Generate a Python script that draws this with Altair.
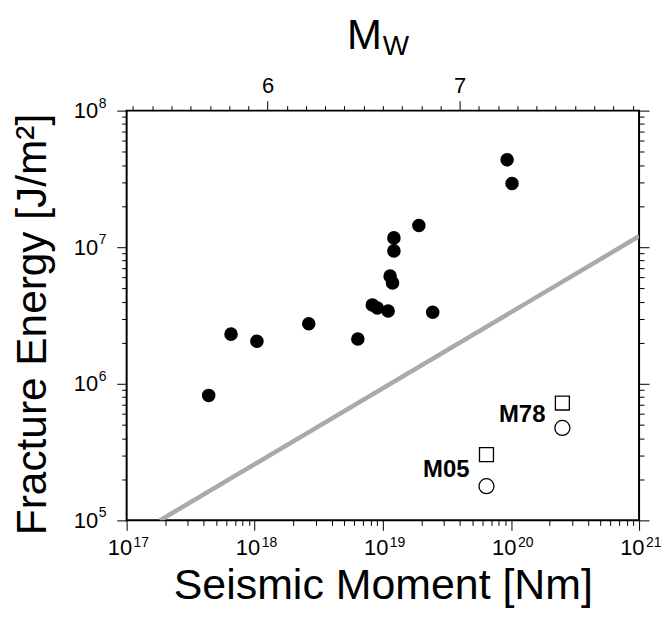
import altair as alt
import pandas as pd

# ---- data ----
moment = [4.37e17, 6.53e17, 1.04e18, 2.64e18, 6.38e18, 8.28e18, 9.06e18, 1.10e19,
          2.45e19, 1.14e19, 1.19e19, 1.22e19, 1.22e19, 1.91e19, 9.33e19, 1.02e20]
energy = [8.22e5, 2.31e6, 2.05e6, 2.75e6, 2.13e6, 3.78e6, 3.59e6, 3.41e6,
          3.34e6, 6.14e6, 5.48e6, 9.40e6, 1.17e7, 1.44e7, 4.37e7, 2.93e7]

open_labels = ["M05", "M78"]
open_moment = [6.44e19, 2.52e20]
open_square = [3.03e5, 7.23e5]
open_circle = [1.78e5, 4.75e5]

line_moment = [10 ** 17.26, 1e21]
line_energy = [1e5, 10 ** 7.08]

x_ticks = [k * 10 ** e for e in range(17, 21) for k in range(1, 10)] + [1e21]
y_ticks = [k * 10 ** e for e in range(5, 8) for k in range(1, 10)] + [1e8]
x_pow_exp = [17, 18, 19, 20, 21]
y_pow_exp = [5, 6, 7, 8]
mw_ticks = [round(5.3 + 0.1 * i, 1) for i in range(27)]
mw_major = [6, 7]

FONT = "Liberation Sans"
W, H = 514, 411

pts = pd.DataFrame({"m": moment, "e": energy})
opn = pd.DataFrame({"m": open_moment, "sq": open_square, "ci": open_circle, "lab": open_labels})
opn["mid"] = (opn["sq"] * opn["ci"]) ** 0.5
ln = pd.DataFrame({"m": line_moment, "e": line_energy})
xexp = pd.DataFrame({"m": [10.0 ** e for e in x_pow_exp], "t": [str(e) for e in x_pow_exp]})
yexp = pd.DataFrame({"e": [10.0 ** e for e in y_pow_exp], "t": [str(e) for e in y_pow_exp]})

xs = alt.Scale(type="log", domain=[1e17, 1e21], nice=False)
ys = alt.Scale(type="log", domain=[1e5, 1e8], nice=False)

lg = "round(log(datum.value)/LN10)"
is_pow = f"abs(log(datum.value)/LN10 - {lg}) < 0.001"
big_small = {"condition": {"test": is_pow, "value": 10}, "value": 5}

x_axis = alt.Axis(values=x_ticks, labelExpr=f"{is_pow} ? '10' : ''",
                  tickSize=big_small, labelAlign="right", labelOffset=5,
                  labelPadding=7, labelFontSize=22,
                  title="Seismic Moment [Nm]", titleX=W / 2, titleY=78,
                  titleBaseline="alphabetic", titleAlign="center")
y_axis = alt.Axis(values=y_ticks, labelExpr=f"{is_pow} ? '10' : ''",
                  tickSize=big_small, labelPadding=19, labelFontSize=22,
                  title="Fracture Energy [J/m²]", titleX=-81, titleY=214,
                  titleBaseline="alphabetic", titleAlign="center", titleAngle=-90,
                  titleFontSize=42.5)

line = alt.Chart(ln).mark_line(color="#aaaaaa", strokeWidth=4.5, clip=True).encode(
    x=alt.X("m:Q", scale=xs, axis=x_axis),
    y=alt.Y("e:Q", scale=ys, axis=y_axis),
)
dots = alt.Chart(pts).mark_circle(size=185, color="black", opacity=1).encode(
    x=alt.X("m:Q", scale=xs), y=alt.Y("e:Q", scale=ys))
squares = alt.Chart(opn).mark_point(shape="square", size=196, color="black",
                                    filled=False, strokeWidth=1.3, opacity=1).encode(
    x=alt.X("m:Q", scale=xs), y=alt.Y("sq:Q", scale=ys))
circles = alt.Chart(opn).mark_point(shape="circle", size=227, color="black",
                                    filled=False, strokeWidth=1.3, opacity=1).encode(
    x=alt.X("m:Q", scale=xs), y=alt.Y("ci:Q", scale=ys))
labels = alt.Chart(opn).mark_text(align="right", baseline="middle", dx=-17, fontSize=24,
                                  fontWeight="bold", font=FONT, color="black").encode(
    x=alt.X("m:Q", scale=xs), y=alt.Y("mid:Q", scale=ys), text="lab:N")

# exponents of the power-of-ten tick labels
x_sup = alt.Chart(xexp).mark_text(align="left", baseline="alphabetic", dx=7, fontSize=14,
                                  font=FONT, color="black").encode(
    x=alt.X("m:Q", scale=xs), y=alt.value(H + 26.5), text="t:N")
y_sup = alt.Chart(yexp).mark_text(align="left", baseline="alphabetic", dy=-3, fontSize=14,
                                  font=FONT, color="black").encode(
    y=alt.Y("e:Q", scale=ys), x=alt.value(-28), text="t:N")

inner = alt.layer(line, dots, squares, circles, labels, x_sup, y_sup)

mw_lo = (2 / 3) * (17 - 9.1)
mw_hi = (2 / 3) * (21 - 9.1)
is_int = "abs(datum.value - round(datum.value)) < 0.01"
top = alt.Chart(pd.DataFrame({"mw": mw_major})).mark_point(opacity=0).encode(
    x=alt.X("mw:Q", scale=alt.Scale(domain=[mw_lo, mw_hi], nice=False, zero=False),
            axis=alt.Axis(orient="top", values=mw_ticks, title=None,
                          tickSize={"condition": {"test": is_int, "value": 10}, "value": 5},
                          labelExpr=f"{is_int} ? format(datum.value, 'd') : ''",
                          labelFontSize=22, labelPadding=3)))

right = alt.Chart(pd.DataFrame({"v": [1e5, 1e8]})).mark_point(opacity=0).encode(
    y=alt.Y("v:Q", scale=ys, axis=alt.Axis(orient="right", values=y_ticks, labels=False,
                                           tickSize=big_small, title=None)))

t_m = alt.Chart(pd.DataFrame({"t": ["M"]})).mark_text(
    align="left", baseline="alphabetic", fontSize=42, font=FONT, color="black").encode(
    x=alt.value(221), y=alt.value(-61.5), text="t:N")
t_w = alt.Chart(pd.DataFrame({"t": ["W"]})).mark_text(
    align="left", baseline="alphabetic", fontSize=28, font=FONT, color="black").encode(
    x=alt.value(257), y=alt.value(-56), text="t:N")

chart = alt.layer(inner, top, right, t_m, t_w).resolve_scale(
    x="independent", y="independent"
).properties(
    width=W, height=H,
    autosize=alt.AutoSizeParams(type="none"),
    padding={"left": 119, "top": 102, "right": 22, "bottom": 100},
).configure_view(stroke="black", strokeWidth=2).configure_axis(
    grid=False, domain=False, tickColor="black", tickWidth=1,
    labelFont=FONT, labelFontSize=20, labelColor="black",
    titleFont=FONT, titleFontSize=43, titleFontWeight="normal", titleColor="black",
)

chart.save("out.html", embed_options={"renderer": "svg", "actions": False})
